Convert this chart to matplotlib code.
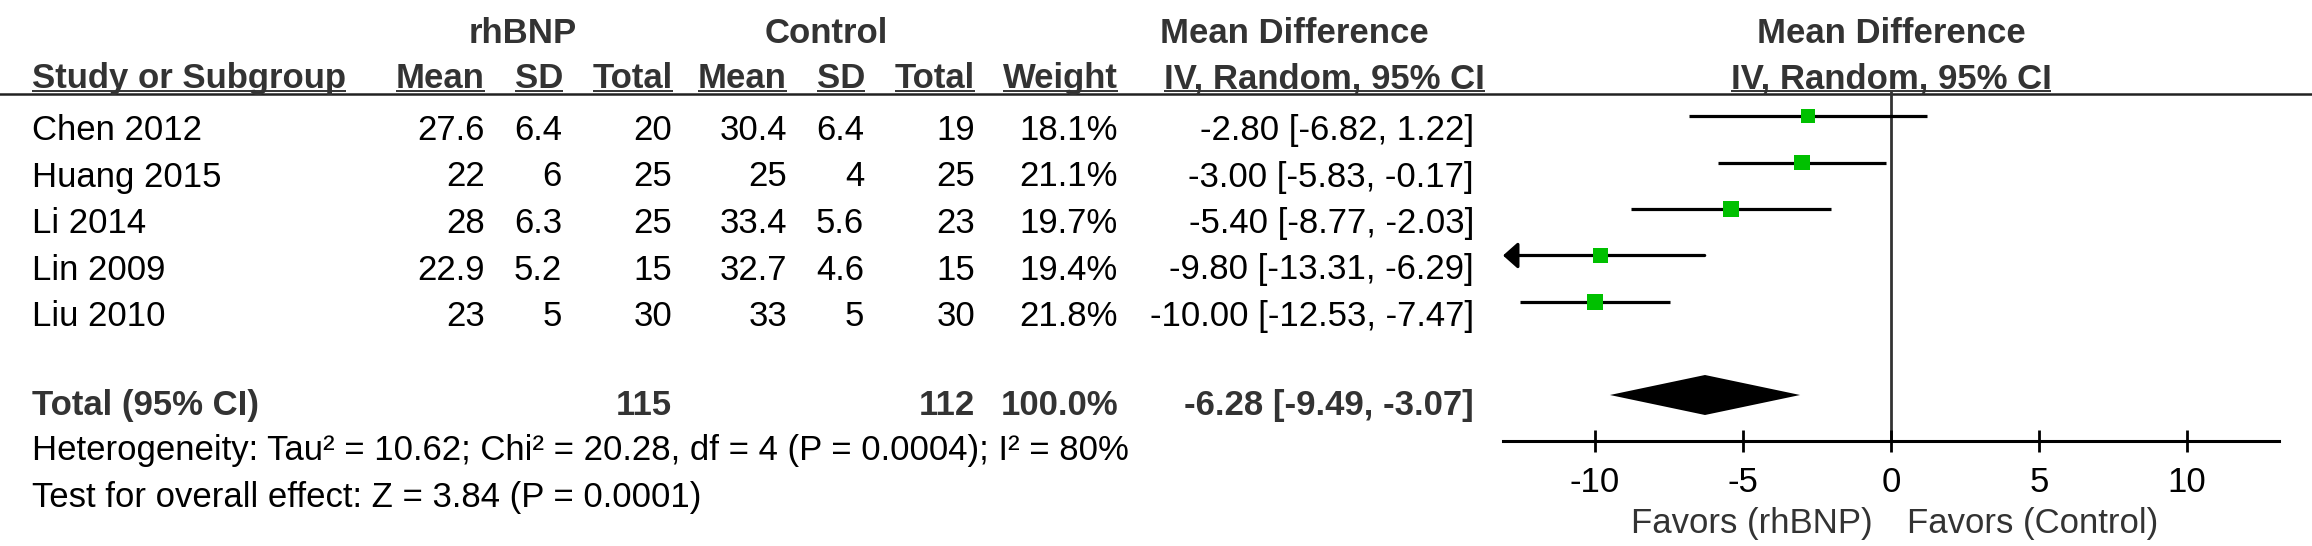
import matplotlib.pyplot as plt

plt.rcParams['font.family'] = ['Liberation Sans', 'DejaVu Sans']
plt.rcParams['axes.unicode_minus'] = False

# study data
studies = ['Chen 2012', 'Huang 2015', 'Li 2014', 'Lin 2009', 'Liu 2010']
exp_mean = [27.6, 22, 28, 22.9, 23]
exp_sd = [6.4, 6, 6.3, 5.2, 5]
exp_total = [20, 25, 25, 15, 30]
ctl_mean = [30.4, 25, 33.4, 32.7, 33]
ctl_sd = [6.4, 4, 5.6, 4.6, 5]
ctl_total = [19, 25, 23, 15, 30]
weights = [18.1, 21.1, 19.7, 19.4, 21.8]
md = [-2.80, -3.00, -5.40, -9.80, -10.00]
ci_low = [-6.82, -5.83, -8.77, -13.31, -12.53]
ci_high = [1.22, -0.17, -2.03, -6.29, -7.47]

# pooled result
total_exp = 115
total_ctl = 112
total_weight = 100.0
total_md, total_low, total_high = -6.28, -9.49, -3.07
heterogeneity = 'Heterogeneity: Tau² = 10.62; Chi² = 20.28, df = 4 (P = 0.0004); I² = 80%'
overall = 'Test for overall effect: Z = 3.84 (P = 0.0001)'

xticks = [-10, -5, 0, 5, 10]
xlim = (-13.1, 13.1)
left_label = 'Favors (rhBNP)'
right_label = 'Favors (Control)'

W, H = 2312, 546
FS = 25
HDR = '#333333'

fig = plt.figure(figsize=(W / 100, H / 100), dpi=100)
bg = fig.add_axes([0, 0, 1, 1])
bg.set_xlim(0, W)
bg.set_ylim(H, 0)
bg.axis('off')

# forest panel (pixel box: x 1503-2279, y 92-441)
row_px = 46.5
ax = fig.add_axes([1503 / W, (H - 441) / H, 776 / W, (441 - 92) / H])
ax.set_xlim(*xlim)
ax.set_ylim((441 - 116) / row_px, -(116 - 92) / row_px)
total_row = 6

for i in range(len(studies)):
    if ci_low[i] < xlim[0]:
        # interval runs off the scale -> arrow
        ax.annotate('', xy=(xlim[0], i), xytext=(ci_high[i], i),
                    arrowprops=dict(arrowstyle='-|>,head_length=0.45,head_width=0.4',
                                    lw=2.3, color='black', shrinkA=0, shrinkB=0,
                                    mutation_scale=20))
    else:
        ax.hlines(i, ci_low[i], ci_high[i], color='black', lw=2.3, zorder=2)
    side = 15.5 * (weights[i] / 20) ** 0.5 * 0.72
    ax.scatter(md[i], i, marker='s', s=side ** 2, color='#00C000',
               edgecolors='none', zorder=3)

h = 20 / row_px
ax.fill([total_low, total_md, total_high, total_md],
        [total_row, total_row - h, total_row, total_row + h],
        color='black', lw=0, zorder=3)

ax.axvline(0, color='#333333', lw=2.0, zorder=1)

for s in ['top', 'left', 'right']:
    ax.spines[s].set_visible(False)
ax.spines['bottom'].set_linewidth(2.2)
ax.set_yticks([])
ax.set_xticks(xticks)
ax.tick_params(axis='x', direction='inout', length=16, width=2,
               labelsize=FS, pad=10, colors='black')
ax.patch.set_alpha(0)

# table text
col_right = [485, 562, 672, 787, 864, 975, 1118, 1474]
base0 = 140
for i, name in enumerate(studies):
    y = base0 + i * row_px
    vals = [f'{exp_mean[i]:g}', f'{exp_sd[i]:g}', str(exp_total[i]),
            f'{ctl_mean[i]:g}', f'{ctl_sd[i]:g}', str(ctl_total[i]),
            f'{weights[i]:.1f}%',
            f'{md[i]:.2f} [{ci_low[i]:.2f}, {ci_high[i]:.2f}]']
    bg.text(32, y, name, fontsize=FS, va='baseline', ha='left', color='black')
    for x, v in zip(col_right, vals):
        bg.text(x, y, v, fontsize=FS, va='baseline', ha='right', color='black')

ty = 415
bg.text(32, ty, 'Total (95% CI)', fontsize=FS, fontweight='bold', va='baseline', color=HDR)
tot_vals = {672: str(total_exp), 975: str(total_ctl), 1118: f'{total_weight:.1f}%',
            1474: f'{total_md:.2f} [{total_low:.2f}, {total_high:.2f}]'}
for x, v in tot_vals.items():
    bg.text(x, ty, v, fontsize=FS, fontweight='bold', va='baseline', ha='right', color=HDR)
bg.text(32, 460, heterogeneity, fontsize=FS, va='baseline', color='black')
bg.text(32, 507, overall, fontsize=FS, va='baseline', color='black')

# headers
for x, t in [(523, 'rhBNP'), (826, 'Control'), (1294, 'Mean Difference'), (1891, 'Mean Difference')]:
    bg.text(x, 43, t, fontsize=FS, fontweight='bold', ha='center', va='baseline', color=HDR)

hdr2 = [bg.text(32, 88, 'Study or Subgroup', fontsize=FS, fontweight='bold',
                ha='left', va='baseline', color=HDR)]
hdr_names = ['Mean', 'SD', 'Total', 'Mean', 'SD', 'Total', 'Weight', 'IV, Random, 95% CI']
hdr_right = [485, 563, 673, 787, 865, 975, 1118, 1485]
for x, t in zip(hdr_right, hdr_names):
    hdr2.append(bg.text(x, 88, t, fontsize=FS, fontweight='bold', ha='right',
                        va='baseline', color=HDR))
hdr2.append(bg.text(1891, 88, 'IV, Random, 95% CI', fontsize=FS, fontweight='bold',
                    ha='center', va='baseline', color=HDR))

fig.canvas.draw()
r = fig.canvas.get_renderer()
for t in hdr2:
    bb = t.get_window_extent(r)
    bg.plot([bb.x0, bb.x1], [90.5, 90.5], color=HDR, lw=1.4, solid_capstyle='butt')
bg.plot([0, W], [93.5, 93.5], color='#222222', lw=1.8)

bg.text(1873, 533, left_label, fontsize=FS, ha='right', va='baseline', color=HDR)
bg.text(1907, 533, right_label, fontsize=FS, ha='left', va='baseline', color=HDR)

fig.savefig('out.png', dpi=100)
